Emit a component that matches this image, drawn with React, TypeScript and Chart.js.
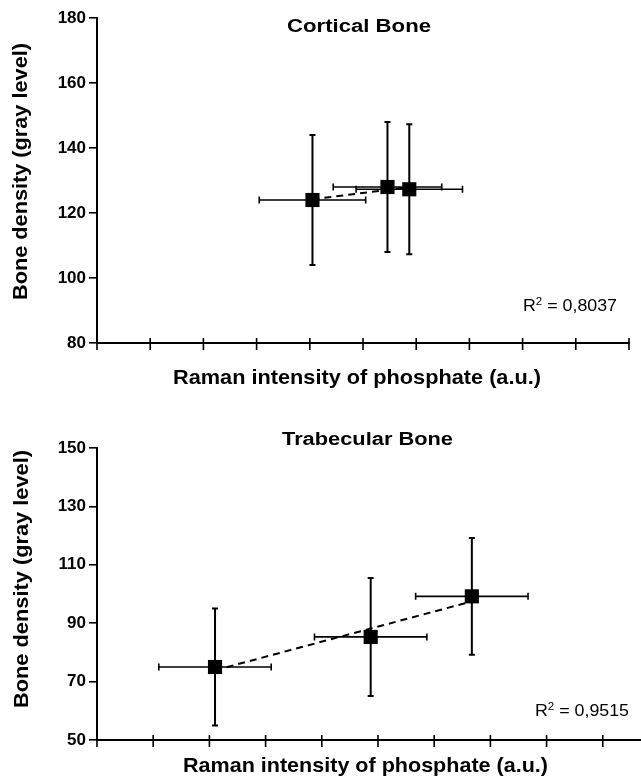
import React, { useEffect, useRef } from "react";
import { Chart, registerables } from "chart.js";

Chart.register(...registerables);

const FONT = "Arial, 'Liberation Sans', Helvetica, sans-serif";

// ---- Data ----
const corticalX = [4.05, 5.46, 5.87];
const corticalY = [124, 128, 127.3];
const corticalXErr = [1.0, 1.02, 1.0];
const corticalYErr = [20, 20, 20];
const corticalYTicks = { min: 80, max: 180, step: 20 };
const corticalR2 = "0,8037";

const trabecularX = [2.1, 4.87, 6.67];
const trabecularY = [75, 85.3, 99.2];
const trabecularXErr = [1.0, 1.0, 1.0];
const trabecularYErr = [20, 20.2, 20];
const trabecularYTicks = { min: 50, max: 150, step: 20 };
const trabecularR2 = "0,9515";

const xTitle = "Raman intensity of phosphate (a.u.)";
const yTitle = "Bone density (gray level)";

function regression(xs: number[], ys: number[]) {
  const n = xs.length;
  const mx = xs.reduce((a, b) => a + b, 0) / n;
  const my = ys.reduce((a, b) => a + b, 0) / n;
  let sxy = 0, sxx = 0;
  for (let i = 0; i < n; i++) {
    sxy += (xs[i] - mx) * (ys[i] - my);
    sxx += (xs[i] - mx) * (xs[i] - mx);
  }
  const b = sxy / sxx;
  return { a: my - b * mx, b };
}

type Part = { text: string; font: string; dy?: number };
type TextSpec = { parts: Part[]; x: number; y: number; width: number; rotate?: boolean };

function drawStretched(ctx: CanvasRenderingContext2D, t: TextSpec) {
  ctx.save();
  let natural = 0;
  t.parts.forEach((p) => {
    ctx.font = p.font;
    natural += ctx.measureText(p.text).width;
  });
  ctx.translate(t.x, t.y);
  if (t.rotate) ctx.rotate(-Math.PI / 2);
  ctx.scale(t.width / natural, 1);
  ctx.fillStyle = "#000";
  ctx.textBaseline = "alphabetic";
  ctx.textAlign = "left";
  let cx = 0;
  t.parts.forEach((p) => {
    ctx.font = p.font;
    ctx.fillText(p.text, cx, p.dy || 0);
    cx += ctx.measureText(p.text).width;
  });
  ctx.restore();
}

type PanelSpec = {
  xs: number[];
  ys: number[];
  xErr: number[];
  yErr: number[];
  yTicks: { min: number; max: number; step: number };
  xMax: number;
  height: number;
  padding: { top: number; right: number; left: number; bottom: number };
  xAxisHeight: number;
  texts: TextSpec[];
};

function r2Parts(val: string): Part[] {
  return [
    { text: "R", font: `17px ${FONT}` },
    { text: "2", font: `11px ${FONT}`, dy: -6 },
    { text: " = " + val, font: `17px ${FONT}` },
  ];
}

const topSpec: PanelSpec = {
  xs: corticalX,
  ys: corticalY,
  xErr: corticalXErr,
  yErr: corticalYErr,
  yTicks: corticalYTicks,
  xMax: 10,
  height: 390,
  padding: { top: 18, right: 12, left: 0, bottom: 0 },
  xAxisHeight: 47,
  texts: [
    { parts: [{ text: "Cortical Bone", font: `bold 18px ${FONT}` }], x: 287, y: 31.5, width: 144 },
    { parts: [{ text: xTitle, font: `bold 21px ${FONT}` }], x: 173, y: 384, width: 368 },
    { parts: [{ text: yTitle, font: `bold 20px ${FONT}` }], x: 27, y: 300, width: 257, rotate: true },
    { parts: r2Parts(corticalR2), x: 523, y: 311, width: 94 },
  ],
};

const bottomSpec: PanelSpec = {
  xs: trabecularX,
  ys: trabecularY,
  xErr: trabecularXErr,
  yErr: trabecularYErr,
  yTicks: trabecularYTicks,
  xMax: 9.68,
  height: 389,
  padding: { top: 58, right: 0, left: 0, bottom: 0 },
  xAxisHeight: 39,
  texts: [
    { parts: [{ text: "Trabecular Bone", font: `bold 18px ${FONT}` }], x: 282, y: 55, width: 171 },
    { parts: [{ text: xTitle, font: `bold 21px ${FONT}` }], x: 183, y: 382, width: 365 },
    { parts: [{ text: yTitle, font: `bold 20px ${FONT}` }], x: 28, y: 318, width: 258, rotate: true },
    { parts: r2Parts(trabecularR2), x: 535, y: 326, width: 94 },
  ],
};

function ChartPanel({ spec }: { spec: PanelSpec }) {
  const ref = useRef<HTMLCanvasElement>(null);
  useEffect(() => {
    const canvas = ref.current!;
    const reg = regression(spec.xs, spec.ys);
    const xmin = Math.min(...spec.xs);
    const xmax = Math.max(...spec.xs);
    const trend = [
      { x: xmin, y: reg.a + reg.b * xmin },
      { x: xmax, y: reg.a + reg.b * xmax },
    ];

    const errorBars = {
      id: "errorBars",
      beforeDatasetsDraw(chart: any) {
        const { ctx, scales } = chart;
        const xs = scales.x, ys = scales.y;
        ctx.save();
        ctx.strokeStyle = "#000";
        spec.xs.forEach((xv, i) => {
          const yv = spec.ys[i];
          const px = xs.getPixelForValue(xv);
          const py = ys.getPixelForValue(yv);
          const yTop = ys.getPixelForValue(yv + spec.yErr[i]);
          const yBot = ys.getPixelForValue(yv - spec.yErr[i]);
          const xL = xs.getPixelForValue(xv - spec.xErr[i]);
          const xR = xs.getPixelForValue(xv + spec.xErr[i]);
          ctx.lineWidth = 2;
          ctx.beginPath();
          ctx.moveTo(px, yTop); ctx.lineTo(px, yBot);
          ctx.moveTo(px - 3, yTop); ctx.lineTo(px + 3, yTop);
          ctx.moveTo(px - 3, yBot); ctx.lineTo(px + 3, yBot);
          ctx.stroke();
          ctx.lineWidth = 1.6;
          ctx.beginPath();
          ctx.moveTo(xL, py); ctx.lineTo(xR, py);
          ctx.moveTo(xL, py - 3.5); ctx.lineTo(xL, py + 3.5);
          ctx.moveTo(xR, py - 3.5); ctx.lineTo(xR, py + 3.5);
          ctx.stroke();
        });
        ctx.restore();
      },
    };

    const xTicks = {
      id: "xTicks",
      afterDraw(chart: any) {
        const { ctx, scales, chartArea } = chart;
        const sx = scales.x;
        ctx.save();
        ctx.strokeStyle = "#000";
        ctx.lineWidth = 1.6;
        ctx.beginPath();
        sx.ticks.forEach((t: any) => {
          if (!Number.isInteger(t.value)) return;
          const px = sx.getPixelForValue(t.value);
          ctx.moveTo(px, chartArea.bottom - 5);
          ctx.lineTo(px, chartArea.bottom + 7);
        });
        ctx.stroke();
        ctx.restore();
      },
    };

    const texts = {
      id: "texts",
      afterDraw(chart: any) {
        spec.texts.forEach((t) => drawStretched(chart.ctx, t));
      },
    };

    const chart = new Chart(canvas, {
      type: "scatter",
      data: {
        datasets: [
          {
            data: spec.xs.map((x, i) => ({ x, y: spec.ys[i] })),
            pointStyle: "rect",
            pointRadius: 10,
            backgroundColor: "#000",
            borderColor: "#000",
            borderWidth: 0,
          },
          {
            data: trend,
            showLine: true,
            borderDash: [7, 5],
            borderColor: "#000",
            borderWidth: 2,
            pointRadius: 0,
          } as any,
        ],
      },
      options: {
        responsive: false,
        animation: false,
        events: [],
        layout: { padding: spec.padding, autoPadding: false },
        plugins: {
          legend: { display: false },
          tooltip: { enabled: false },
          title: { display: false },
        },
        scales: {
          x: {
            type: "linear",
            min: 0,
            max: spec.xMax,
            ticks: { display: false, stepSize: 1, includeBounds: false },
            grid: { display: false },
            border: { display: true, color: "#000", width: 2 },
            afterFit: (s: any) => {
              s.height = spec.xAxisHeight;
            },
          },
          y: {
            type: "linear",
            min: spec.yTicks.min,
            max: spec.yTicks.max,
            ticks: {
              stepSize: spec.yTicks.step,
              color: "#000",
              padding: 3,
              font: { family: FONT, size: 17, weight: "bold" },
            },
            grid: {
              display: true,
              drawOnChartArea: false,
              drawTicks: true,
              tickLength: 8,
              color: "#000",
              lineWidth: 1.6,
            },
            border: { display: true, color: "#000", width: 2 },
            afterFit: (s: any) => {
              s.width = 97;
            },
          },
        },
      } as any,
      plugins: [errorBars, xTicks, texts],
    });
    return () => chart.destroy();
  }, [spec]);
  return <canvas ref={ref} width={641} height={spec.height} style={{ display: "block" }} />;
}

export default function App() {
  return (
    <div style={{ position: "absolute", left: 0, top: 0, width: 641, height: 779, background: "#fff" }}>
      <ChartPanel spec={topSpec} />
      <ChartPanel spec={bottomSpec} />
    </div>
  );
}
